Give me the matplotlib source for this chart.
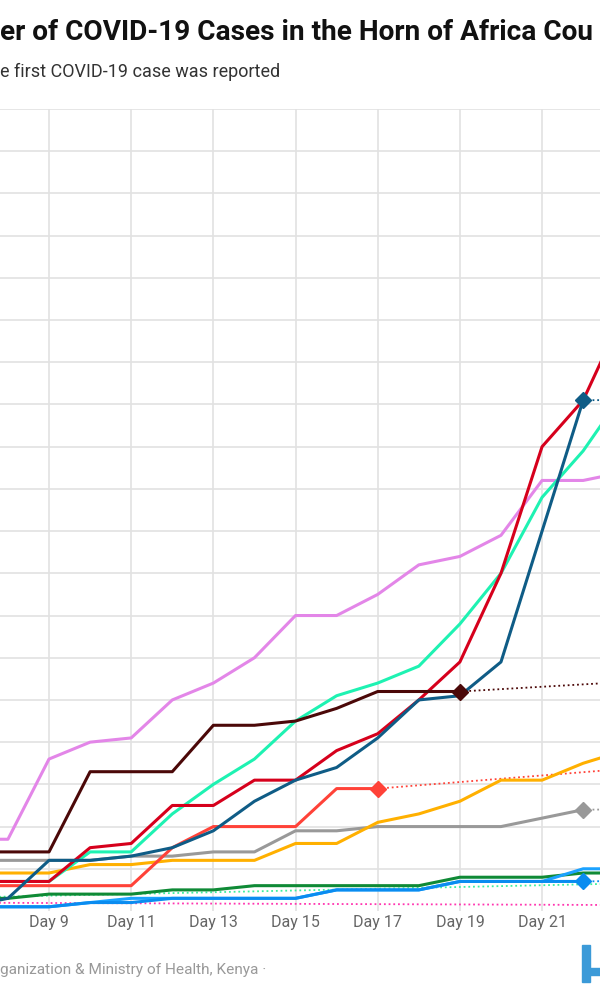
import matplotlib
matplotlib.use("Agg")
import matplotlib.pyplot as plt
from matplotlib.patches import Rectangle

plt.rcParams['font.family'] = ['Roboto', 'DejaVu Sans']

# ---- data (cumulative cases by day since first case) ----
days_full = list(range(7, 24))          # days 7..23
orchid = [17, 17, 36, 40, 41, 50, 54, 60, 70, 70, 75, 82, 84, 89, 102, 102, 104]
aquamarine = [7, 7, 7, 14, 14, 23, 30, 36, 45, 51, 54, 58, 68, 80, 98, 109, 123]
crimson = [7, 7, 7, 15, 16, 25, 25, 31, 31, 38, 42, 50, 59, 80, 110, 121, 142]
amber = [9, 9, 9, 11, 11, 12, 12, 12, 16, 16, 21, 23, 26, 31, 31, 35, 38]
forest = [3, 3, 4, 4, 4, 5, 5, 6, 6, 6, 6, 6, 8, 8, 8, 9, 9]
sky = [1, 1, 1, 2, 3, 3, 3, 3, 3, 5, 5, 5, 7, 7, 7, 10, 10]

days_to22 = list(range(7, 23))          # days 7..22
navy = [1, 3, 12, 12, 13, 15, 19, 26, 31, 34, 41, 50, 51, 59, 90, 121]
grey = [12, 12, 12, 12, 13, 13, 14, 14, 19, 19, 20, 20, 20, 20, 22, 24]
azure = [1, 1, 1, 2, 2, 3, 3, 3, 3, 5, 5, 5, 7, 7, 7, 7]

days_to19 = list(range(7, 20))
maroon = [14, 14, 14, 33, 33, 33, 44, 44, 45, 48, 52, 52, 52]

days_to17 = list(range(7, 18))
coral = [6, 6, 6, 6, 6, 15, 20, 20, 20, 29, 29]

days_early = [4, 5, 6]
mint = [2, 3, 3]
hotpink = [2, 2, 2]

# latest reported value (far-right reference day) for series that stopped early
final_day = 35
latest = {"maroon": 61, "coral": 43, "navy": 122, "grey": 25,
          "azure": 9, "mint": 9, "hotpink": 1}

xticks = [9, 11, 13, 15, 17, 19, 21]
xticklabels = ["Day %d" % d for d in xticks]

colors = {"orchid": "#e386e8", "aquamarine": "#1ef2b2", "crimson": "#d6001c",
          "amber": "#ffb000", "forest": "#0f8a36", "sky": "#1ba2ff",
          "navy": "#0f5c86", "grey": "#999999", "azure": "#0a8cf0",
          "maroon": "#4b0808", "coral": "#ff4238", "mint": "#3cef9e",
          "hotpink": "#ff35b0"}

fig = plt.figure(figsize=(6, 10), dpi=100)
ax = fig.add_axes([0, 0.089, 1, 0.802])

dot = (0, (1.0, 1.6))
lw = 2.2
dlw = 1.3

# dotted "latest" connectors
def connector(day, val, key):
    ax.plot([day, final_day], [val, latest[key]], color=colors[key],
            lw=dlw, ls=dot, zorder=2)

connector(days_early[-1], hotpink[-1], "hotpink")
connector(days_early[-1], mint[-1], "mint")
connector(days_to19[-1], maroon[-1], "maroon")
connector(days_to17[-1], coral[-1], "coral")
connector(days_to22[-1], navy[-1], "navy")
connector(days_to22[-1], grey[-1], "grey")
connector(days_to22[-1], azure[-1], "azure")

ax.plot(days_early, hotpink, color=colors["hotpink"], lw=lw, zorder=3)
ax.plot(days_early, mint, color=colors["mint"], lw=lw, zorder=3)
ax.plot(days_to22, grey, color=colors["grey"], lw=lw, zorder=3)
ax.plot(days_full, amber, color=colors["amber"], lw=lw, zorder=3)
ax.plot(days_full, forest, color=colors["forest"], lw=lw, zorder=3)
ax.plot(days_full, sky, color=colors["sky"], lw=lw, zorder=3)
ax.plot(days_to22, azure, color=colors["azure"], lw=lw, zorder=3)
ax.plot(days_to17, coral, color=colors["coral"], lw=lw, zorder=3)
ax.plot(days_full, orchid, color=colors["orchid"], lw=lw, zorder=3)
ax.plot(days_full, aquamarine, color=colors["aquamarine"], lw=lw, zorder=3)
ax.plot(days_full, crimson, color=colors["crimson"], lw=lw, zorder=3)
ax.plot(days_to22, navy, color=colors["navy"], lw=lw, zorder=3)
ax.plot(days_to19, maroon, color=colors["maroon"], lw=lw, zorder=3)

# end markers
for dlist, vals, key in [(days_to19, maroon, "maroon"), (days_to17, coral, "coral"),
                         (days_to22, navy, "navy"), (days_to22, grey, "grey"),
                         (days_to22, azure, "azure")]:
    ax.plot([dlist[-1]], [vals[-1]], marker="D", ms=8, color=colors[key],
            mec=colors[key], ls="none", zorder=5)

# grid
ax.set_yticks(range(10, 191, 10))
ax.set_xticks(xticks)
ax.set_xticklabels(xticklabels)
ax.set_xlim(7.807, 22.41)
ax.set_ylim(0, 190)
ax.grid(True, color="#e2e2e2", lw=1.2, zorder=0)
ax.set_axisbelow(True)
ax.tick_params(axis="both", length=0)
ax.tick_params(axis="x", labelsize=11.5, labelcolor="#666666", pad=3)
ax.tick_params(axis="y", labelleft=False)
for s in ax.spines.values():
    s.set_visible(False)

# texts (visible portions)
fig.text(0.0, 1 - 32 / 1000, "er of COVID-19 Cases in the Horn of Africa Cou",
         fontsize=20.2, fontweight="bold", color="#111111", va="center", ha="left")
fig.text(0.0, 1 - 72 / 1000, "e first COVID-19 case was reported",
         fontsize=13, color="#333333", va="center", ha="left")
fig.text(0.0, 1 - 970 / 1000, "ganization & Ministry of Health, Kenya \u00b7",
         fontsize=11.1, color="#999999", va="center", ha="left")

# partial logo at bottom right
logo = "#3b9ad8"
fig.patches.append(Rectangle((582 / 600, 1 - 982 / 1000), 8 / 600, 37 / 1000,
                             transform=fig.transFigure, color=logo))
fig.patches.append(Rectangle((589 / 600, 1 - 975 / 1000), 11 / 600, 7 / 1000,
                             transform=fig.transFigure, color=logo))

fig.savefig("out.png", dpi=100)
